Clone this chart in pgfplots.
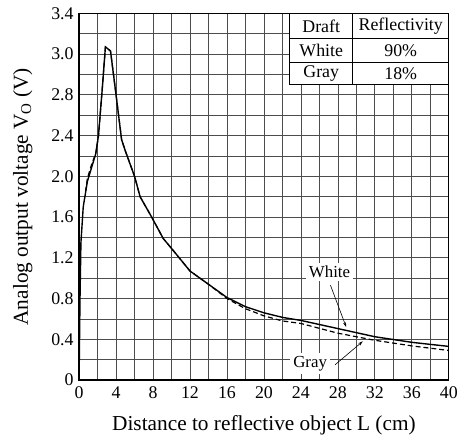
\documentclass[border=0pt]{standalone}
\usepackage{fontspec}
\setmainfont{Liberation Serif}
\usepackage{pgfplots}
\pgfplotsset{compat=1.18}
\usetikzlibrary{arrows.meta}

\begin{document}
\begin{tikzpicture}
\begin{axis}[
    scale only axis,
    width=373pt, height=370pt,
    xmin=0, xmax=40,
    ymin=0, ymax=3.6,
    xtick={0,4,...,40},
    ytick={0,0.4,0.8,1.2,1.6,2.0,2.4,2.8,3.2,3.6},
    yticklabels={0,0.4,0.8,1.2,1.6,2.0,2.4,2.8,3.0,3.4},
    minor x tick num=1,
    minor y tick num=1,
    grid=both,
    grid style={black!70, line width=0.7pt},
    major tick length=0pt,
    minor tick length=0pt,
    axis line style={line width=1.3pt},
    tick label style={font=\fontsize{18}{18}\selectfont},
    yticklabel style={xshift=-2pt},
    xticklabel style={yshift=-3pt},
    label style={font=\fontsize{21.5}{21.5}\selectfont},
    /pgf/number format/assume math mode=true,
    xlabel={Distance to reflective object L (cm)},
    ylabel={Analog output voltage V\textsubscript{O} (V)},
    xlabel shift=10pt,
    ylabel shift=12pt,
]

% Gray (18%) - dashed
\addplot[black, line width=1.2pt, dash pattern=on 5pt off 3pt] coordinates {
    (0.7,1.85) (0.9,1.98) (1.4,2.13) (1.8,2.22) (2.1,2.4) (2.5,2.85)
    (2.85,3.27) (3.4,3.23) (4.0,2.8) (4.6,2.36) (5,2.25) (6,2.0)
    (6.6,1.8) (7.85,1.6) (9.1,1.39) (10.2,1.27) (12,1.07) (14,0.94)
    (16,0.80) (18,0.70) (20,0.63) (22,0.58) (24,0.555) (28,0.46)
    (32,0.39) (36,0.335) (40,0.29)
};

% White (90%) - solid
\addplot[black, line width=1.4pt] coordinates {
    (0,0) (0.1,0.8) (0.2,1.35) (0.45,1.7) (0.9,1.95) (1.4,2.1)
    (1.8,2.22) (2.1,2.4) (2.5,2.85) (2.85,3.27) (3.4,3.23) (4.0,2.8)
    (4.6,2.36) (5,2.25) (6,2.0) (6.6,1.8) (7.85,1.6) (9.1,1.39)
    (10.2,1.27) (12,1.07) (14,0.94) (16,0.81) (18,0.72) (20,0.66)
    (22,0.615) (24,0.585) (28,0.505) (32,0.425) (36,0.37) (40,0.33)
};

% reflectivity table
\fill[white] (axis cs:22.8,2.90) rectangle (axis cs:40,3.6);
\draw[line width=1pt] (axis cs:22.8,3.6) rectangle (axis cs:40,2.90);
\draw[line width=0.8pt] (axis cs:22.8,3.35) -- (axis cs:40,3.35);
\draw[line width=0.8pt] (axis cs:22.8,3.12) -- (axis cs:40,3.12);
\draw[line width=0.8pt] (axis cs:29.6,3.6) -- (axis cs:29.6,2.90);
\begin{scope}[font=\fontsize{18}{18}\selectfont]
\node at (axis cs:26.2,3.475) {Draft};
\node at (axis cs:34.8,3.475) {Reflectivity};
\node at (axis cs:26.2,3.235) {White};
\node at (axis cs:34.8,3.235) {90\%};
\node at (axis cs:26.2,3.01) {Gray};
\node at (axis cs:34.8,3.01) {18\%};
\end{scope}

% curve labels
\begin{scope}[font=\fontsize{17}{17}\selectfont]
\node[fill=white, inner sep=3pt] at (axis cs:27.1,1.06) {White};
\node[fill=white, inner sep=3pt] at (axis cs:25.0,0.16) {Gray};
\end{scope}
\draw[line width=0.6pt, -{Stealth[length=5pt,width=3pt]}] (axis cs:27.2,0.93) -- (axis cs:28.9,0.52);
\draw[line width=0.6pt, -{Stealth[length=5pt,width=3pt]}] (axis cs:27.7,0.15) -- (axis cs:30.7,0.38);

\end{axis}
% extra white margin on the left and top, as in the reference
\path ([xshift=-10pt]current bounding box.west) ([yshift=4pt]current bounding box.north);
\end{tikzpicture}
\end{document}
